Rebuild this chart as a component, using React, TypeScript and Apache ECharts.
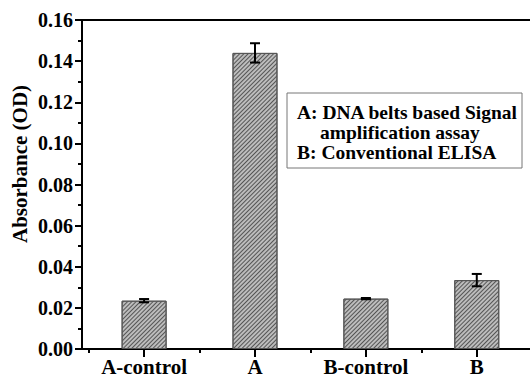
import React, { useEffect, useRef } from "react";
import * as echarts from "echarts";

const categories = ["A-control", "A", "B-control", "B"];
const values = [0.0235, 0.144, 0.0245, 0.0335];
const errors = [0.0008, 0.0047, 0.0003, 0.003];
const yTicks = [0, 0.02, 0.04, 0.06, 0.08, 0.1, 0.12, 0.14, 0.16];
const legendLines = ["A: DNA belts based Signal", "amplification assay", "B: Conventional ELISA"];

const FONT = "Liberation Serif";

export default function App() {
  const ref = useRef<HTMLDivElement>(null);
  useEffect(() => {
    if (!ref.current) return;
    const chart = echarts.init(ref.current, null, { renderer: "svg" });
    const xs = categories.map((_, i) => i + 1);
    const txt = (text: string, x: number, y: number, extra: any = {}) => ({
      type: "text",
      x,
      y,
      z: 11,
      style: { text, fontFamily: FONT, fontWeight: "bold", fontSize: 19.5, fill: "#000", verticalAlign: "middle", ...extra },
    });
    const option: any = {
      animation: false,
      backgroundColor: "#fff",
      textStyle: { fontFamily: FONT },
      grid: { left: 82, right: 0, top: 20, bottom: 28 },
      xAxis: [
        {
          type: "value",
          min: 0.44,
          max: 4.48,
          axisLine: { show: true, lineStyle: { color: "#000", width: 2 } },
          axisTick: { show: true, customValues: xs, length: 8, lineStyle: { color: "#000", width: 2 } },
          axisLabel: {
            show: true,
            customValues: xs,
            formatter: (v: number) => categories[Math.round(v) - 1] || "",
            color: "#000",
            fontFamily: FONT,
            fontWeight: "bold",
            fontSize: 21,
            margin: 7,
          },
          splitLine: { show: false },
        },
        {
          type: "value",
          min: 0.44,
          max: 4.48,
          position: "bottom",
          axisLine: { show: false },
          axisTick: { show: true, customValues: [0.5, 1.5, 2.5, 3.5], length: 4, lineStyle: { color: "#000", width: 2 } },
          axisLabel: { show: false },
          splitLine: { show: false },
        },
        {
          type: "value",
          min: 0.44,
          max: 4.48,
          position: "top",
          axisLine: { show: true, lineStyle: { color: "#000", width: 2 } },
          axisTick: { show: false },
          axisLabel: { show: false },
          splitLine: { show: false },
        },
      ],
      yAxis: {
        type: "value",
        min: 0,
        max: 0.16,
        interval: 0.02,
        axisLine: { show: true, lineStyle: { color: "#000", width: 2 } },
        axisTick: { show: true, length: 7, lineStyle: { color: "#000", width: 2 } },
        minorTick: { show: true, splitNumber: 2, length: 4, lineStyle: { color: "#000", width: 2 } },
        axisLabel: {
          color: "#000",
          fontFamily: FONT,
          fontWeight: "bold",
          fontSize: 20,
          margin: 9,
          formatter: (v: number) => (yTicks.some((t) => Math.abs(t - v) < 1e-9) ? v.toFixed(2) : ""),
        },
        splitLine: { show: false },
      },
      series: [
        {
          type: "bar",
          xAxisIndex: 0,
          barWidth: 45,
          data: xs.map((x, i) => [x, values[i]]),
          itemStyle: {
            color: "#bcbcbc",
            borderColor: "#555",
            borderWidth: 1,
            decal: {
              symbol: "rect",
              symbolSize: 1,
              dashArrayX: [[1, 0]],
              dashArrayY: [1, 2],
              rotation: -Math.PI / 4,
              color: "#555",
            },
          },
        },
        {
          type: "custom",
          xAxisIndex: 0,
          data: xs.map((x, i) => [x, values[i] - errors[i], values[i] + errors[i]]),
          renderItem: (params: any, api: any) => {
            const x = api.value(0);
            const lo = api.coord([x, api.value(1)]);
            const hi = api.coord([x, api.value(2)]);
            const w = 5;
            const st = { stroke: "#000", lineWidth: 2 };
            return {
              type: "group",
              children: [
                { type: "line", shape: { x1: lo[0], y1: lo[1], x2: hi[0], y2: hi[1] }, style: st },
                { type: "line", shape: { x1: lo[0] - w, y1: lo[1], x2: lo[0] + w, y2: lo[1] }, style: st },
                { type: "line", shape: { x1: hi[0] - w, y1: hi[1], x2: hi[0] + w, y2: hi[1] }, style: st },
              ],
            };
          },
          z: 5,
        },
      ],
      graphic: [
        { ...txt("Absorbance (OD)", 20, 164, { align: "center", fontSize: 21 }), rotation: Math.PI / 2 },
        {
          type: "rect",
          shape: { x: 287, y: 93, width: 235, height: 75 },
          style: { fill: "#fff", stroke: "#777", lineWidth: 1 },
          z: 10,
        },
        txt(legendLines[0], 297, 112),
        txt(legendLines[1], 320, 132),
        txt(legendLines[2], 297, 152),
      ],
    };
    chart.setOption(option);
    return () => chart.dispose();
  }, []);
  return <div ref={ref} style={{ position: "fixed", left: 0, top: 0, width: 530, height: 377 }} />;
}
